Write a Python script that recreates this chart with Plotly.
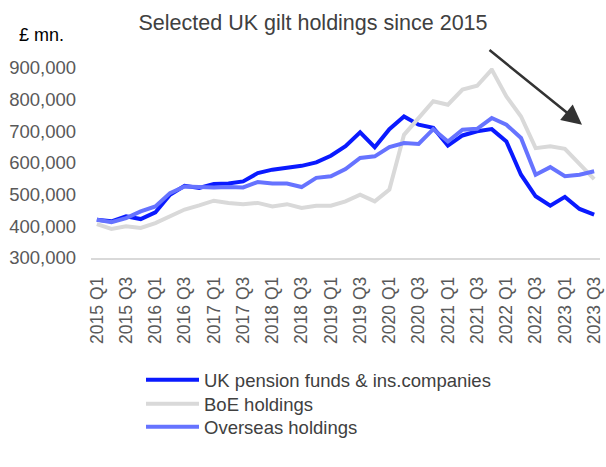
import plotly.graph_objects as go

quarters = [f"{y} Q{q}" for y in range(2015, 2024) for q in range(1, 5)][:35]
tick_labels = quarters[::2]

pension = [421000, 416000, 432000, 423000, 444000, 500000, 528000, 521000, 534000, 535000,
           542000, 568000, 579000, 586000, 591000, 602000, 623000, 653000, 697000, 650000,
           707000, 747000, 721000, 711000, 655000, 687000, 700000, 707000, 668000, 563000,
           495000, 465000, 493000, 455000, 437000]
boe = [407000, 392000, 400000, 395000, 410000, 432000, 453000, 466000, 481000, 474000,
       470000, 474000, 463000, 470000, 458000, 465000, 465000, 479000, 500000, 479000,
       516000, 689000, 742000, 795000, 784000, 832000, 844000, 895000, 810000, 747000,
       647000, 653000, 645000, 595000, 549000]
overseas = [421000, 413000, 426000, 447000, 463000, 505000, 526000, 523000, 523000, 524000,
            523000, 540000, 535000, 535000, 524000, 553000, 558000, 581000, 616000, 621000,
            650000, 663000, 660000, 707000, 668000, 705000, 708000, 742000, 721000, 679000,
            563000, 587000, 558000, 563000, 574000]

series_names = ["UK pension funds & ins.companies", "BoE holdings", "Overseas holdings"]
colors = ["#0A1AFF", "#D9D9D9", "#6673FF"]
legend_ids = ["legend", "legend2", "legend3"]
legend_centers = [381, 405, 428]

FONT = "Arial, Liberation Sans, sans-serif"
W, H = 606, 467
L, R, T, B = 91, 6, 68, 208.5
pw = W - L - R
ph = H - T - B

fig = go.Figure()
for name, vals, col, lid in zip(series_names, [pension, boe, overseas], colors, legend_ids):
    fig.add_trace(go.Scatter(x=quarters, y=vals, name=name, mode="lines",
                             line=dict(color=col, width=4), legend=lid))

tip_x, tip_y = 582, 125
tail_x, tail_y = 488, 49

legend_defs = {}
for lid, cy in zip(legend_ids, legend_centers):
    legend_defs[lid] = dict(xref="paper", yref="paper", x=(141 - L) / pw, xanchor="left",
                            y=(H - B - (cy - 19)) / ph, yanchor="top", orientation="v",
                            itemwidth=53, font=dict(size=18.5, color="#404040", family=FONT),
                            bgcolor="rgba(0,0,0,0)")

fig.update_layout(
    width=W, height=H,
    margin=dict(l=L, r=R, t=T, b=B, pad=0),
    paper_bgcolor="white", plot_bgcolor="white",
    font=dict(family=FONT, color="#595959", size=18),
    title=dict(text="Selected UK gilt holdings since 2015", x=313 / W, xanchor="center",
               y=1 - 22 / H, yanchor="middle", font=dict(size=21.5, color="#404040", family=FONT)),
    xaxis=dict(type="category", range=[-0.4, 34.4], tickvals=tick_labels, ticktext=tick_labels,
               tickangle=-90, showgrid=False, zeroline=False, showline=True,
               linecolor="#D9D9D9", linewidth=1.5, ticks="", ticklabelstandoff=10,
               tickfont=dict(size=17.5, color="#595959"), automargin=False),
    yaxis=dict(range=[300000, 900000], tickvals=list(range(300000, 900001, 100000)),
               tickformat=",d", showgrid=False, zeroline=False, showline=False, ticks="",
               ticklabelstandoff=14, tickfont=dict(size=18.5, color="#595959"), automargin=False),
    showlegend=True,
    **legend_defs,
)

fig.add_annotation(xref="paper", yref="paper", x=(tip_x - L) / pw, y=(H - B - tip_y) / ph,
                   ax=tail_x - tip_x, ay=tail_y - tip_y, axref="pixel", ayref="pixel",
                   showarrow=True, arrowhead=2, arrowsize=1.6, arrowwidth=2.5,
                   arrowcolor="#333333", text="")
fig.add_annotation(xref="paper", yref="paper", x=(17 - L) / pw, y=(H - B - 35) / ph,
                   xanchor="left", yanchor="middle", showarrow=False, text="£ mn.",
                   font=dict(size=18, color="#000000", family=FONT))

fig.write_html("out.html", config={"displayModeBar": False},
               post_script="document.body.style.margin='0';document.body.style.overflow='hidden';")
